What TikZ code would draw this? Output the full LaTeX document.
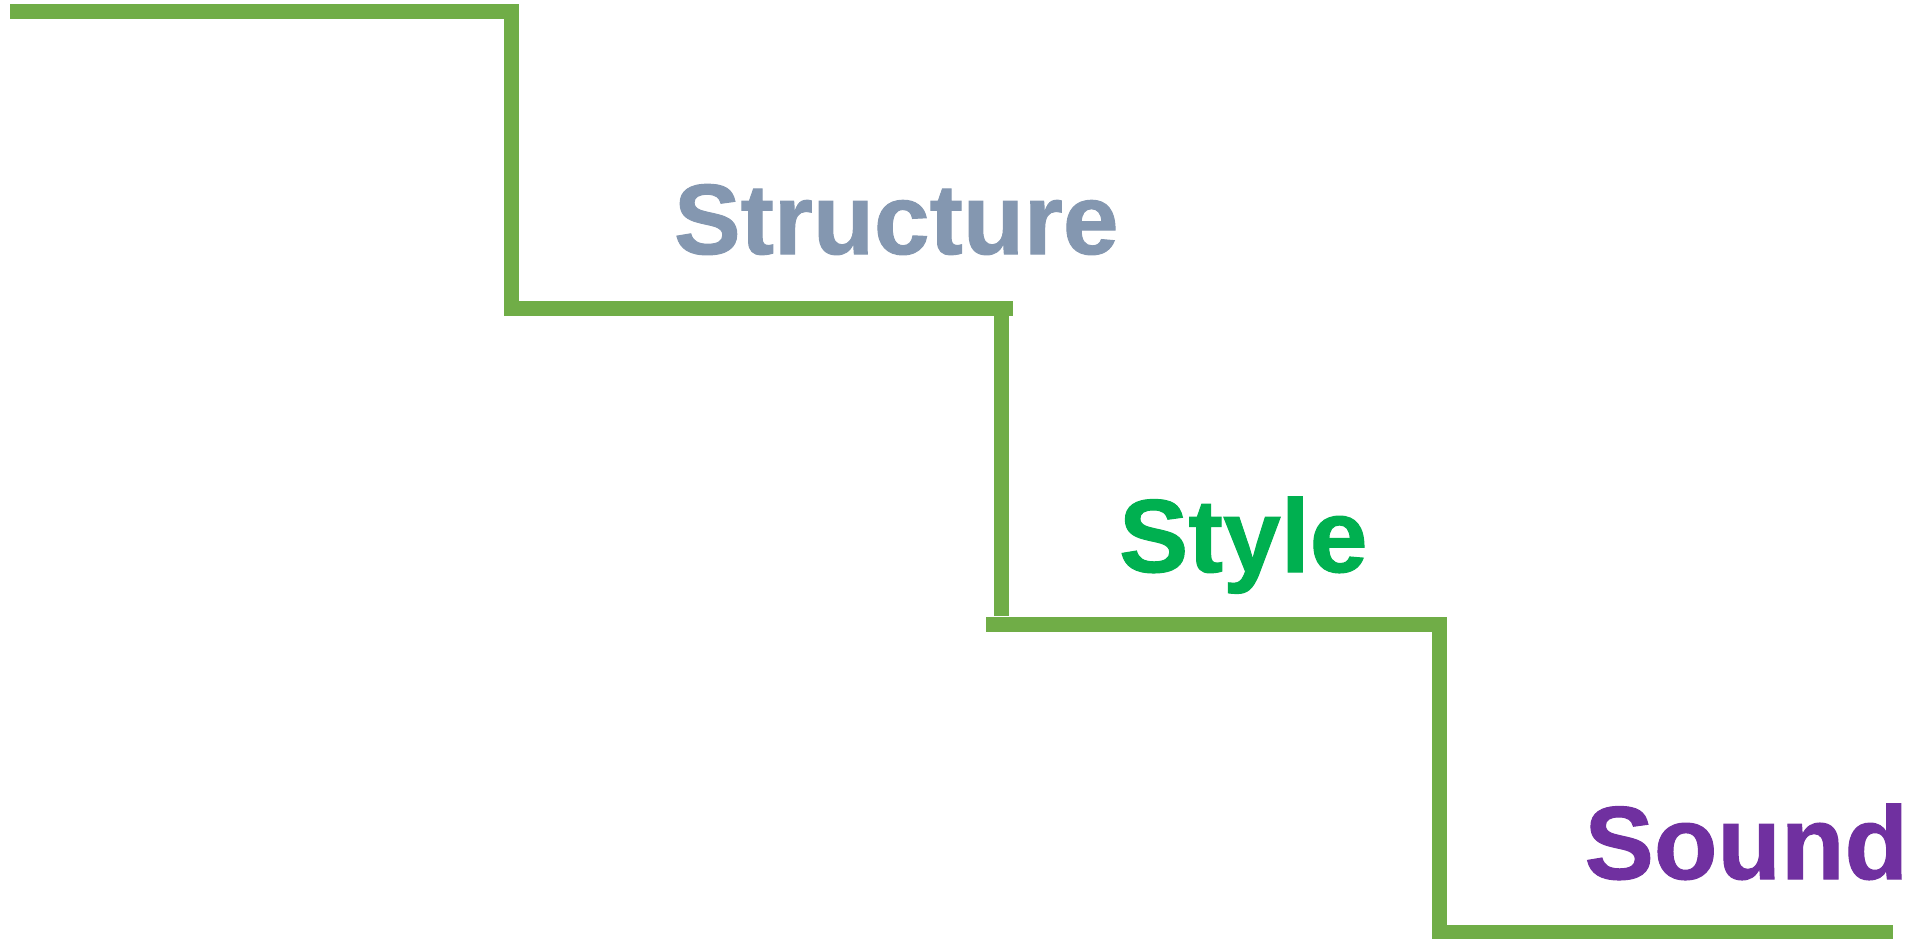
\documentclass[tikz,border=0pt]{standalone}
\usepackage{fontspec}
\setmainfont{Liberation Sans}
\newfontfamily\heavyfont[FakeBold=1]{Liberation Sans Bold}
\definecolor{stairgreen}{HTML}{70AD47}
\definecolor{structcol}{HTML}{8497B0}
\definecolor{stylecol}{HTML}{00B050}
\definecolor{soundcol}{HTML}{7030A0}
\begin{document}
\begin{tikzpicture}[x=1pt,y=-1pt,
  stair/.style={draw=stairgreen,line width=15pt,line cap=butt,line join=miter},
  word/.style={inner sep=0pt,outer sep=0pt,anchor=base west,font=\heavyfont\fontsize{100}{120}\selectfont},
  bigword/.style={word,font=\heavyfont\fontsize{104}{120}\selectfont}]
\useasboundingbox (0,0) rectangle (1909,939);
\coordinate (a0) at (10,11.5);
\coordinate (a1) at (511.5,11.5);
\coordinate (a2) at (511.5,308.5);
\coordinate (a3) at (1013,308.5);
\coordinate (b0) at (1001,301);
\coordinate (b1) at (1001,616);
\coordinate (c0) at (986,624);
\coordinate (c1) at (1439.5,624);
\coordinate (c2) at (1439.5,932.5);
\coordinate (c3) at (1893,932.5);
\draw[stair] (a0) -- (a1) -- (a2) -- (a3);
\draw[stair] (b0) -- (b1);
\draw[stair] (c0) -- (c1) -- (c2) -- (c3);
\node[word,text=structcol] (structure) at (674,254) {Structure};
\node[bigword,text=stylecol] (style) at (1119,572) {Style};
\node[bigword,text=soundcol,anchor=base east] (sound) at (1908,879) {Sound};
\end{tikzpicture}
\end{document}
